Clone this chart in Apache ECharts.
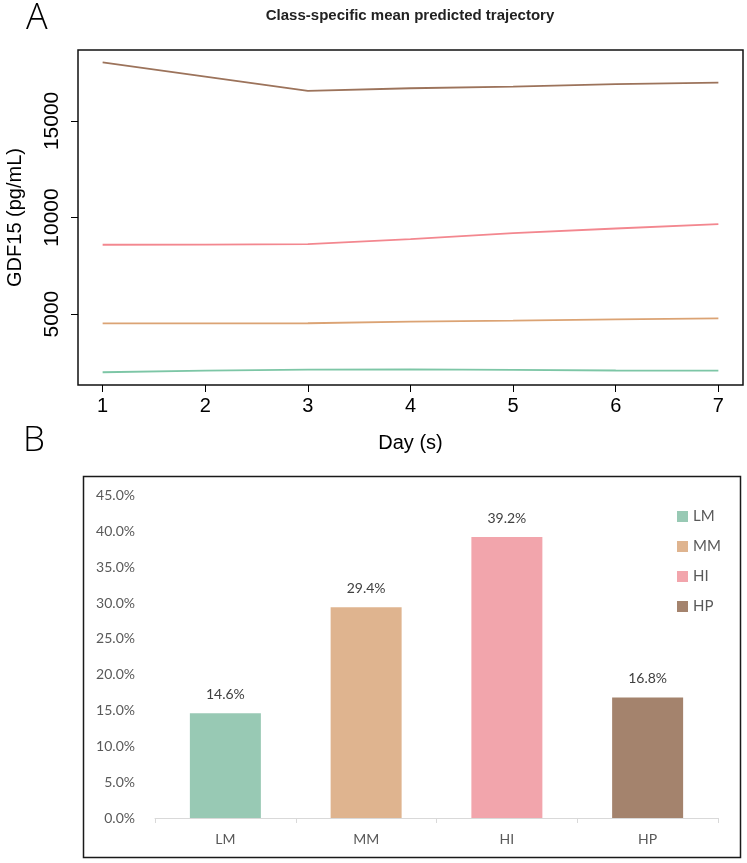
<!DOCTYPE html>
<html>
<head>
<meta charset="utf-8">
<script src="https://cdn.jsdelivr.net/npm/echarts@6/dist/echarts.min.js"></script>
<style>html,body{margin:0;padding:0;background:#fff}#c{width:747px;height:863px}</style>
</head>
<body>
<div id="c"></div>
<script>
// ---- data ----
const days = [1, 2, 3, 4, 5, 6, 7];
const lmTraj = [1990, 2070, 2130, 2135, 2110, 2080, 2075];
const mmTraj = [4520, 4520, 4525, 4605, 4660, 4725, 4780];
const hiTraj = [8590, 8600, 8620, 8880, 9190, 9430, 9660];
const hpTraj = [18030, 17290, 16550, 16690, 16770, 16900, 16980];
const yTicks = [5000, 10000, 15000];

const categories = ['LM', 'MM', 'HI', 'HP'];
const shares = [14.6, 29.4, 39.2, 16.8];

const lineColors = ['#7DC6A6', '#DBA374', '#F3878F', '#9C735B'];
const barColors = ['#98C9B4', '#DFB48F', '#F2A5AC', '#A4836D'];

const trajs = [lmTraj, mmTraj, hiTraj, hpTraj];

const chart = echarts.init(document.getElementById('c'), null, {renderer: 'canvas'});

const lineSeries = trajs.map((t, i) => ({
  type: 'line',
  name: categories[i] + '_traj',
  xAxisIndex: 0, yAxisIndex: 0,
  data: days.map((d, k) => [d, t[k]]),
  symbol: 'none',
  lineStyle: {color: lineColors[i], width: 1.8},
  silent: true
}));

const barSeries = categories.map((c, i) => ({
  type: 'bar',
  name: c,
  xAxisIndex: 1, yAxisIndex: 1,
  data: categories.map((cc, k) => k === i ? shares[i] : '-'),
  barWidth: 71,
  barGap: '-100%',
  itemStyle: {color: barColors[i]},
  label: {
    show: true, position: 'top', distance: 12,
    formatter: p => p.value.toFixed(1) + '%',
    color: '#404040', fontSize: 14, fontFamily: 'Lato'
  }
}));

const option = {
  animation: false,
  backgroundColor: '#fff',
  graphic: [
    {type: 'text', x: 26, y: 1, style: {text: 'A', fontSize: 36, fontFamily: 'Open Sans', fontWeight: 300, fill: '#000'}},
    {type: 'text', x: 23, y: 424, style: {text: 'B', fontSize: 35, fontFamily: 'Open Sans', fontWeight: 300, fill: '#000'}},
    {type: 'text', x: 410, y: 16, style: {text: 'Class-specific mean predicted trajectory', fontSize: 15, fontWeight: 'bold', fontFamily: 'Liberation Sans', fill: '#222', align: 'center', verticalAlign: 'middle'}},
    {type: 'rect', shape: {x: 83.5, y: 476.5, width: 657, height: 381}, style: {fill: 'none', stroke: '#1a1a1a', lineWidth: 1.5}, silent: true}
  ],
  legend: {
    data: categories,
    orient: 'vertical',
    left: 672, top: 504,
    itemWidth: 11, itemHeight: 11, itemGap: 15,
    icon: 'rect',
    textStyle: {color: '#595959', fontSize: 15, fontFamily: 'Lato'}
  },
  grid: [
    {left: 78, top: 50, width: 665, height: 335, show: true, borderColor: '#111', borderWidth: 1.5, backgroundColor: 'transparent', containLabel: false, outerBoundsMode: 'none'},
    {left: 155, top: 495.5, width: 563, height: 322.5, containLabel: false, outerBoundsMode: 'none'}
  ],
  xAxis: [
    {
      type: 'value', gridIndex: 0, min: 0.76, max: 7.24,
      name: 'Day (s)', nameLocation: 'middle', nameGap: 48,
      nameTextStyle: {fontSize: 20, fontFamily: 'Liberation Sans', color: '#000'},
      axisLine: {show: false},
      axisTick: {show: true, inside: false, length: 7, customValues: days, lineStyle: {color: '#000', width: 1}},
      axisLabel: {customValues: days, fontSize: 20, fontFamily: 'Liberation Sans', color: '#000', margin: 11},
      splitLine: {show: false}
    },
    {
      type: 'category', gridIndex: 1, data: categories,
      axisLine: {show: true, lineStyle: {color: '#D9D9D9', width: 1}},
      axisTick: {show: true, length: 5, lineStyle: {color: '#D9D9D9'}},
      axisLabel: {color: '#595959', fontSize: 14, fontFamily: 'Lato', margin: 14},
      splitLine: {show: false}
    }
  ],
  yAxis: [
    {
      type: 'value', gridIndex: 0, min: 1329, max: 18671,
      name: 'GDF15 (pg/mL)', nameLocation: 'middle', nameGap: 53,
      nameTextStyle: {fontSize: 20, fontFamily: 'Liberation Sans', color: '#000'},
      axisLine: {show: false},
      axisTick: {show: true, length: 7, customValues: yTicks, lineStyle: {color: '#000', width: 1}},
      axisLabel: {customValues: yTicks, rotate: 90, formatter: v => String(v), fontSize: 21, fontFamily: 'Liberation Sans', color: '#000', margin: 15},
      splitLine: {show: false}
    },
    {
      type: 'value', gridIndex: 1, min: 0, max: 45, interval: 5,
      axisLine: {show: false}, axisTick: {show: false},
      axisLabel: {formatter: v => v.toFixed(1) + '%', color: '#595959', fontSize: 14, fontFamily: 'Lato', margin: 20},
      splitLine: {show: false}
    }
  ],
  series: lineSeries.concat(barSeries)
};
chart.setOption(option);
</script>
</body>
</html>
